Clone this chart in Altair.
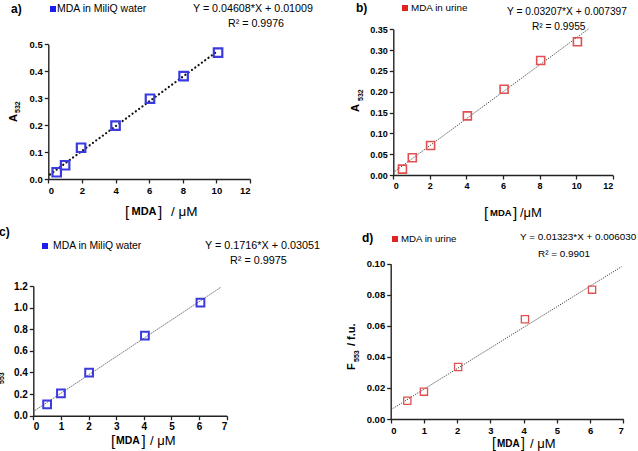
import altair as alt
import pandas as pd

FONT = "Liberation Sans"
W, H = 638, 451

# ---------------- data ----------------
a_x = [0.5, 1.0, 1.95, 4.0, 6.05, 8.05, 10.1]
a_y = [0.025, 0.051, 0.116, 0.198, 0.298, 0.382, 0.469]
b_x = [0.5, 1.04, 2.04, 4.05, 6.06, 8.06, 10.07]
b_y = [0.014, 0.0415, 0.071, 0.142, 0.206, 0.275, 0.320]
c_x = [0.5, 1.0, 2.02, 4.04, 6.05]
c_y = [0.105, 0.207, 0.398, 0.741, 1.047]
d_x = [0.5, 1.0, 2.03, 4.04, 6.06]
d_y = [0.0118, 0.0176, 0.0335, 0.0642, 0.0833]

x_ticks_12 = [0, 2, 4, 6, 8, 10, 12]
x_ticks_7 = [0, 1, 2, 3, 4, 5, 6, 7]
a_yticks = [0.0, 0.1, 0.2, 0.3, 0.4, 0.5]
b_yticks = [0.0, 0.05, 0.10, 0.15, 0.20, 0.25, 0.30, 0.35]
c_yticks = [0.0, 0.2, 0.4, 0.6, 0.8, 1.0, 1.2]
d_yticks = [0.0, 0.02, 0.04, 0.06, 0.08, 0.10]

legend_water = "MDA in MiliQ water"
legend_urine = "MDA in urine"
a_eq, a_r2 = "Y = 0.04608*X + 0.01009", "R\u00b2 = 0.9976"
b_eq, b_r2 = "Y = 0.03207*X + 0.007397", "R\u00b2 =  0.9955"
c_eq, c_r2 = "Y = 0.1716*X + 0.03051", "R\u00b2 =  0.9975"
d_eq, d_r2 = "Y = 0.01323*X + 0.006030", "R\u00b2 =  0.9901"

BLUE_M, BLUE_L = "#3a3adf", "#1c1cf0"
RED_M, RED_L = "#e05050", "#e02424"

one = pd.DataFrame({"k": [0]})


def txt(s, x, y, size=10.5, weight="normal", align="left", angle=0, color="black"):
    return alt.Chart(one).mark_text(
        text=s, font=FONT, fontSize=size, fontWeight=weight, align=align,
        baseline="middle", angle=angle, color=color
    ).encode(x=alt.value(x), y=alt.value(y))


def panel(xs, ys, xdom, xrng, xticks, ydom, yrng, yticks, yfmt, ext,
          mcolor, msize, mstroke, lstyle, lsize):
    df = pd.DataFrame({"x": xs, "y": ys})
    X = alt.X("x:Q",
              scale=alt.Scale(domain=xdom, range=xrng, nice=False, zero=False),
              axis=alt.Axis(orient="bottom", offset=yrng[0] - H, values=xticks,
                            format="d", labelFontSize=lsize))
    Y = alt.Y("y:Q",
              scale=alt.Scale(domain=ydom, range=yrng, nice=False, zero=False),
              axis=alt.Axis(orient="left", offset=-xrng[0], values=yticks,
                            format=yfmt, labelFontSize=lsize))
    line = alt.Chart(df).transform_regression(
        "x", "y", extent=ext
    ).mark_line(**lstyle).encode(x=X, y=Y)
    pts = alt.Chart(df).mark_point(
        shape="square", filled=False, size=msize, strokeWidth=mstroke,
        color=mcolor, opacity=1
    ).encode(x=X, y=Y)
    return alt.layer(line, pts)


dotted_a = dict(color="#111", strokeWidth=2.2, strokeDash=[0.1, 4], strokeCap="round")
dotted = dict(color="#444", strokeWidth=1, strokeDash=[1.2, 1.2])

pa = panel(a_x, a_y, [0, 12], [48.3, 250], x_ticks_12, [0, 0.5], [179, 44.3],
           a_yticks, ".1f", [0.1, 10.1], BLUE_M, 72, 2.2, dotted_a, 9.5)
pb = panel(b_x, b_y, [0, 12], [393.3, 612.7], x_ticks_12, [0, 0.35], [175, 29.3],
           b_yticks, ".2f", [0, 10.7], RED_M, 64, 1.6, dotted, 9)
pc = panel(c_x, c_y, [0, 7], [33.3, 226.7], x_ticks_7, [0, 1.2], [415.7, 286],
           c_yticks, ".1f", [0, 6.8], BLUE_M, 60, 2.0, dotted, 10)
pd_ = panel(d_x, d_y, [0, 7], [390.7, 623.3], x_ticks_7, [0, 0.10], [419, 263.7],
            d_yticks, ".2f", [0, 6.95], RED_M, 52, 1.3, dotted, 9.5)


def legend_sq(x, y, color):
    return alt.Chart(one).mark_square(size=36, color=color, opacity=1).encode(
        x=alt.value(x), y=alt.value(y))


def xtitle(x0, x1, x2, x3, y, mda_size=10.5, mu_size=13, br_size=15, unit="/ \u03bcM"):
    return [
        txt("[", x0, y, size=br_size),
        txt("MDA", x1, y, size=mda_size, weight="bold"),
        txt("]", x2, y, size=br_size),
        txt(unit, x3, y, size=mu_size),
    ]


def ytitle(main, sub, rest, x, y0, ysub, yrest, subx):
    out = [
        txt(main, x, y0, size=11, weight="bold", angle=270),
        txt(sub, subx, ysub, size=7, weight="bold", angle=270),
    ]
    if rest:
        out.append(txt(rest, x, yrest, size=11, weight="bold", angle=270))
    return out


texts = []
# panel a
texts += [txt("a)", 11, 9, size=12, weight="bold"), legend_sq(53, 9, BLUE_L),
          txt(legend_water, 57, 9, size=10.5), txt(a_eq, 193, 9, size=10.7),
          txt(a_r2, 256, 24, size=10.7, align="center")]
texts += xtitle(125, 131.5, 158, 171, 212, mda_size=11, mu_size=13.5)
texts += ytitle("A", "532", None, 14, 122, 113, 0, 18)
# panel b
texts += [txt("b)", 356, 8, size=12, weight="bold"), legend_sq(405, 8, RED_L),
          txt(legend_urine, 411, 8, size=9.9), txt(b_eq, 507, 12, size=10.2),
          txt(b_r2, 532, 27, size=10.2)]
texts += xtitle(484, 490, 513, 520, 213, mda_size=9.5, mu_size=13, unit="/\u03bcM")
texts += ytitle("A", "532", None, 356, 112, 101, 0, 361)
# panel c
texts += [txt("c)", -1, 232, size=12, weight="bold"), legend_sq(45, 246, BLUE_L),
          txt(legend_water, 53, 246, size=10.4), txt(c_eq, 205, 246, size=10.8),
          txt(c_r2, 230, 261, size=10.8)]
texts += xtitle(111, 116, 141.5, 150, 441, mda_size=10.5, mu_size=13)
texts += ytitle("F", "553", "/ f.u.", -4, 392, 384, 368, 2)
# panel d
texts += [txt("d)", 362, 238, size=12, weight="bold"), legend_sq(395, 239, RED_L),
          txt(legend_urine, 401, 239, size=9.7), txt(d_eq, 520, 237, size=9.9),
          txt(d_r2, 538, 254, size=9.9)]
texts += xtitle(492, 497, 521, 530, 443.5, mda_size=10, mu_size=13, br_size=14)
texts += ytitle("F", "553", "/ f.u.", 352, 370, 362, 346, 357)

chart = alt.layer(pa, pb, pc, pd_, *texts).resolve_scale(
    x="independent", y="independent"
).resolve_axis(
    x="independent", y="independent"
).properties(
    width=W, height=H, padding=0, autosize=alt.AutoSizeParams(type="none"),
    background="white"
).configure_view(stroke=None).configure_axis(
    grid=False, title=None, labelFont=FONT, labelFontWeight="bold", labelColor="black",
    tickColor="#222", domainColor="#222", tickWidth=1.3, domainWidth=1.4, tickSize=4,
    labelPadding=2
)

chart.save("out.html", embed_options={"renderer": "svg", "actions": False})
